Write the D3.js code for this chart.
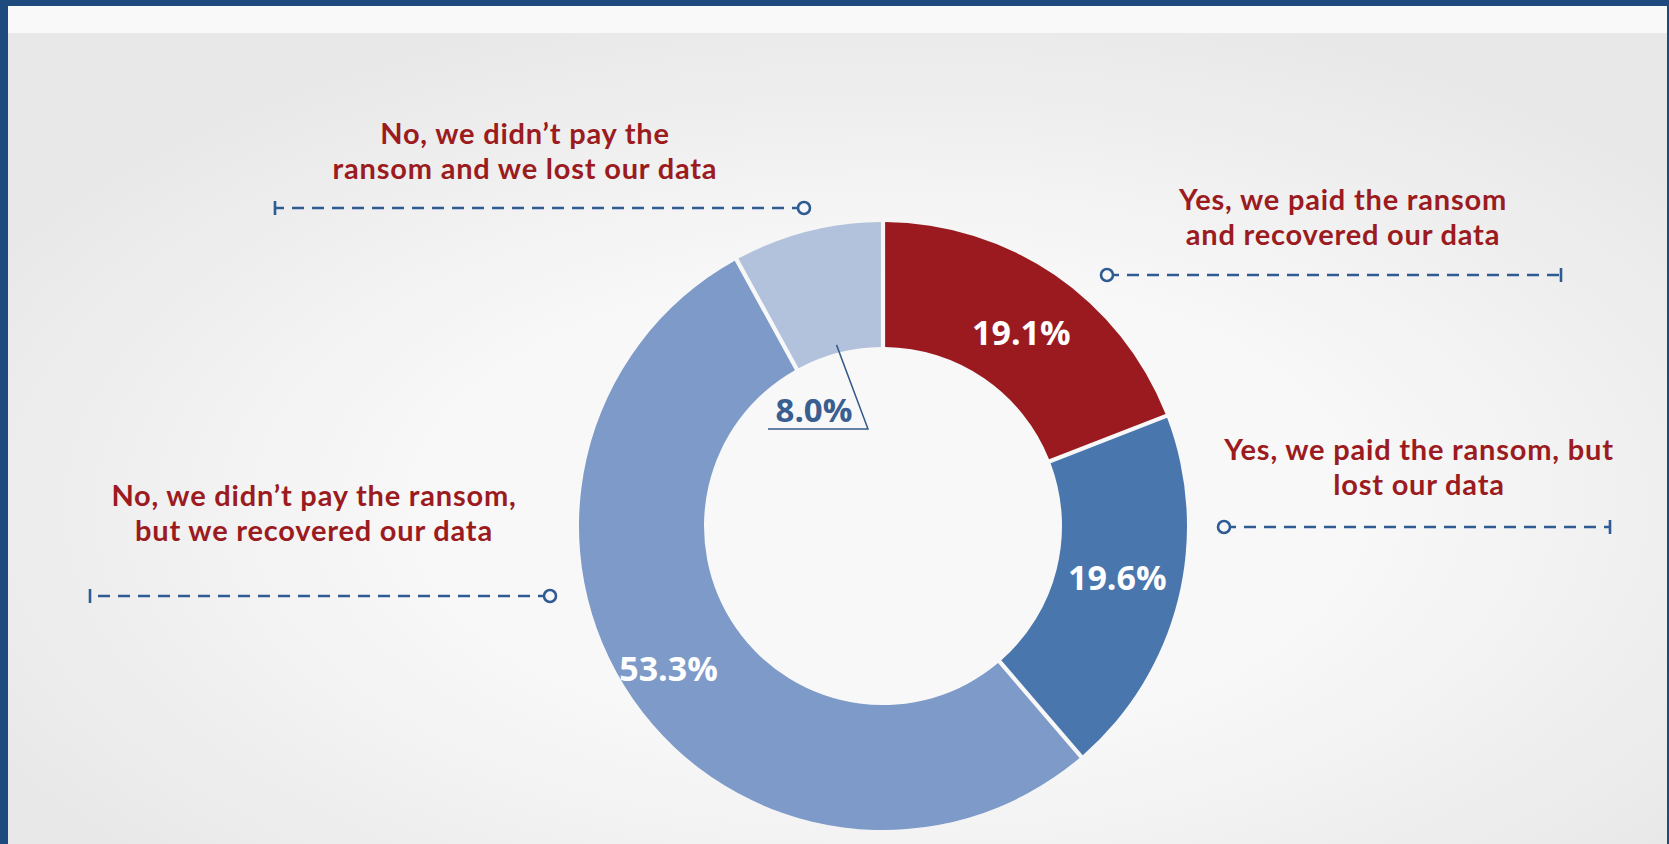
<!DOCTYPE html>
<html>
<head>
<meta charset="utf-8">
<script src="https://cdn.jsdelivr.net/npm/d3@7"></script>
<style>
  html, body { margin: 0; padding: 0; background: #1f4a7e; }
  svg { display: block; }
  .callout { font-family: Lato, "Open Sans", sans-serif; font-weight: 700; fill: #9b1b20; letter-spacing: 0.8px; }
  .pct { font-family: "Open Sans", sans-serif; font-weight: 700; }
</style>
</head>
<body>
<div id="chart"></div>
<script>
// data
var categories = [
	"Yes, we paid the ransom and recovered our data",
	"Yes, we paid the ransom, but lost our data",
	"No, we didn't pay the ransom, but we recovered our data",
	"No, we didn't pay the ransom and we lost our data"
];
var values = [19.1, 19.6, 53.3, 8.0];
var valueLabels = ["19.1%", "19.6%", "53.3%", "8.0%"];
var labelLines = [
	["Yes, we paid the ransom", "and recovered our data"],
	["Yes, we paid the ransom, but", "lost our data"],
	["No, we didn\u2019t pay the ransom,", "but we recovered our data"],
	["No, we didn\u2019t pay the", "ransom and we lost our data"]
];
var colors = ["#9a1a1f", "#4a76ae", "#7d9ac8", "#b2c2dc"];

var width = 1669, height = 844;
var cx = 883, cy = 526;
var outerR = 304, innerR = 179;

// callout layout: text centre, line y, line ends (circle end, tick end)
var callouts = [
	{tx: 1343, ty: 210, ly: 275, circleX: 1107, tickX: 1561},
	{tx: 1419, ty: 460, ly: 527, circleX: 1224, tickX: 1610},
	{tx: 314, ty: 506, ly: 596, circleX: 550, tickX: 90},
	{tx: 525, ty: 144, ly: 208, circleX: 804, tickX: 275}
];
// nudges for the ring labels, from the arc centroid
var pctNudge = [[2, 6], [0, -7], [-16, 5]];

var svg = d3.select("#chart").append("svg")
	.attr("width", width)
	.attr("height", height);

var defs = svg.append("defs");
var grad = defs.append("radialGradient")
	.attr("id", "bg")
	.attr("cx", "0.53").attr("cy", "0.6").attr("r", "0.62");
grad.append("stop").attr("offset", "0.45").attr("stop-color", "#f8f8f8");
grad.append("stop").attr("offset", "1").attr("stop-color", "#e8e8e8");

svg.append("rect")
	.attr("x", 8).attr("y", 6)
	.attr("width", width - 10).attr("height", height - 6)
	.attr("fill", "url(#bg)");
svg.append("rect")
	.attr("x", 8).attr("y", 6)
	.attr("width", width - 10).attr("height", 27)
	.attr("fill", "#f9f9f9");

var g = svg.append("g").attr("transform", "translate(" + cx + "," + cy + ")");

var pie = d3.pie().sort(null).value(function(d) { return d; });
var arcs = pie(values);

var arc = d3.arc()
	.innerRadius(innerR)
	.outerRadius(outerR)
	.padAngle(0.012)
	.padRadius(Math.sqrt(innerR * innerR + outerR * outerR));

g.selectAll("path.slice")
	.data(arcs)
	.enter().append("path")
	.attr("class", "slice")
	.attr("fill", function(d, i) { return colors[i]; })
	.attr("d", arc);

// percentage labels on the ring (first three)
g.selectAll("text.pct")
	.data(arcs.slice(0, 3))
	.enter().append("text")
	.attr("class", "pct")
	.attr("x", function(d, i) { return arc.centroid(d)[0] + pctNudge[i][0]; })
	.attr("y", function(d, i) { return arc.centroid(d)[1] + 12 + pctNudge[i][1]; })
	.attr("text-anchor", "middle")
	.attr("font-size", 34)
	.attr("fill", "#ffffff")
	.text(function(d, i) { return valueLabels[i]; });

// the small slice label sits inside the hole with a leader
var small = arcs[3];
var mid = (small.startAngle + small.endAngle) / 2;
var lr = innerR + 8;
var p0 = [Math.sin(mid) * lr, -Math.cos(mid) * lr];
var p1 = [-15, -97];
var p2 = [-115, -97];
g.append("path")
	.attr("d", d3.line()([p0, p1, p2]))
	.attr("fill", "none")
	.attr("stroke", "#35598c")
	.attr("stroke-width", 1.5);
g.append("text")
	.attr("class", "pct")
	.attr("x", -69)
	.attr("y", -104)
	.attr("text-anchor", "middle")
	.attr("font-size", 33)
	.attr("fill", "#3a5e90")
	.text(valueLabels[3]);

// callouts
var co = svg.selectAll("g.co")
	.data(callouts)
	.enter().append("g")
	.attr("class", "co");

co.append("text")
	.attr("class", "callout")
	.attr("text-anchor", "middle")
	.attr("font-size", 29)
	.attr("x", function(d) { return d.tx; })
	.attr("y", function(d) { return d.ty; })
	.each(function(d, i) {
		var t = d3.select(this);
		labelLines[i].forEach(function(line, j) {
			t.append("tspan")
				.attr("x", d.tx)
				.attr("dy", j === 0 ? 0 : 35)
				.text(line);
		});
	});

co.append("line")
	.attr("x1", function(d) { return d.circleX; })
	.attr("x2", function(d) { return d.tickX; })
	.attr("y1", function(d) { return d.ly; })
	.attr("y2", function(d) { return d.ly; })
	.attr("stroke", "#2f5b93")
	.attr("stroke-width", 2.6)
	.attr("stroke-dasharray", "12,8");

co.append("line")
	.attr("x1", function(d) { return d.tickX; })
	.attr("x2", function(d) { return d.tickX; })
	.attr("y1", function(d) { return d.ly - 7; })
	.attr("y2", function(d) { return d.ly + 7; })
	.attr("stroke", "#2f5b93")
	.attr("stroke-width", 2.6);

co.append("circle")
	.attr("cx", function(d) { return d.circleX; })
	.attr("cy", function(d) { return d.ly; })
	.attr("r", 6)
	.attr("fill", "#f7f7f7")
	.attr("stroke", "#2f5b93")
	.attr("stroke-width", 2.6);
</script>
</body>
</html>
